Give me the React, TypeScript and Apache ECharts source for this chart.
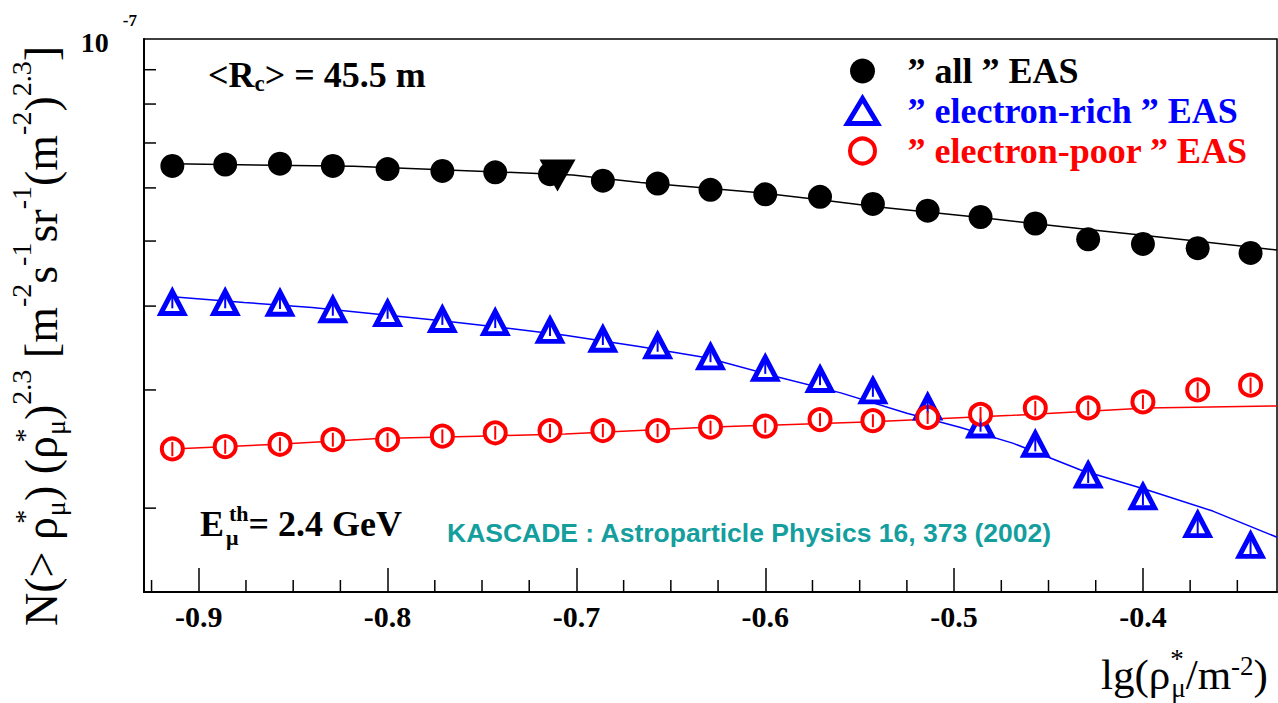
import React, { useEffect, useRef } from 'react';
import * as echarts from 'echarts';

// x positions of the bins, lg(rho*/m^-2)
const lgRho = [-0.914, -0.886, -0.857, -0.829, -0.8, -0.771, -0.743, -0.714, -0.686, -0.657, -0.629,
  -0.6, -0.571, -0.543, -0.514, -0.486, -0.457, -0.429, -0.4, -0.371, -0.343];
// "all" EAS
const allEAS = [6.47e-8, 6.5e-8, 6.52e-8, 6.47e-8, 6.4e-8, 6.36e-8, 6.33e-8, 6.29e-8, 6.15e-8, 6.09e-8, 5.96e-8,
  5.87e-8, 5.82e-8, 5.68e-8, 5.55e-8, 5.43e-8, 5.31e-8, 5.03e-8, 4.95e-8, 4.88e-8, 4.8e-8];
// "electron-rich" EAS
const eRich = [4.05e-8, 4.05e-8, 4.04e-8, 3.95e-8, 3.9e-8, 3.82e-8, 3.78e-8, 3.68e-8, 3.57e-8, 3.49e-8, 3.36e-8,
  3.23e-8, 3.11e-8, 2.99e-8, 2.83e-8, 2.66e-8, 2.49e-8, 2.24e-8, 2.08e-8, 1.89e-8, 1.76e-8];
const eRichErr = [0.08e-8, 0.08e-8, 0.08e-8, 0.08e-8, 0.07e-8, 0.07e-8, 0.07e-8, 0.07e-8, 0.07e-8, 0.07e-8, 0.06e-8,
  0.06e-8, 0.06e-8, 0.06e-8, 0.06e-8, 0.06e-8, 0.06e-8, 0.06e-8, 0.06e-8, 0.07e-8, 0.07e-8];
// "electron-poor" EAS
const ePoor = [2.45e-8, 2.47e-8, 2.49e-8, 2.53e-8, 2.53e-8, 2.56e-8, 2.59e-8, 2.61e-8, 2.61e-8, 2.61e-8, 2.64e-8,
  2.65e-8, 2.71e-8, 2.7e-8, 2.73e-8, 2.76e-8, 2.82e-8, 2.82e-8, 2.88e-8, 3.0e-8, 3.05e-8];
const ePoorErr = [0.06e-8, 0.06e-8, 0.06e-8, 0.06e-8, 0.06e-8, 0.06e-8, 0.06e-8, 0.06e-8, 0.06e-8, 0.06e-8, 0.06e-8,
  0.06e-8, 0.06e-8, 0.06e-8, 0.06e-8, 0.07e-8, 0.07e-8, 0.07e-8, 0.07e-8, 0.08e-8, 0.08e-8];

// fitted curves
const allFitX = [-0.914, -0.818, -0.73, -0.702, -0.666, -0.635, -0.603, -0.571, -0.54, -0.486, -0.458, -0.429, -0.4, -0.372, -0.329];
const allFitY = [6.52e-8, 6.46e-8, 6.32e-8, 6.27e-8, 6.11e-8, 6.01e-8, 5.9e-8, 5.76e-8, 5.62e-8, 5.42e-8, 5.31e-8, 5.2e-8, 5.1e-8, 5.0e-8, 4.85e-8];
const richFitX = [-0.914, -0.876, -0.84, -0.805, -0.77, -0.734, -0.706, -0.666, -0.631, -0.596, -0.56, -0.525, -0.497, -0.469, -0.433, -0.398, -0.363, -0.329];
const richFitY = [4.13e-8, 4.05e-8, 3.98e-8, 3.89e-8, 3.8e-8, 3.7e-8, 3.62e-8, 3.48e-8, 3.35e-8, 3.15e-8, 2.97e-8, 2.77e-8, 2.64e-8, 2.5e-8, 2.28e-8, 2.13e-8, 1.98e-8, 1.81e-8];
const poorFitX = [-0.914, -0.858, -0.805, -0.752, -0.706, -0.631, -0.543, -0.469, -0.398, -0.329];
const poorFitY = [2.45e-8, 2.49e-8, 2.54e-8, 2.56e-8, 2.58e-8, 2.64e-8, 2.69e-8, 2.75e-8, 2.82e-8, 2.84e-8];

// single inverted-triangle marker
const markX = [-0.71];
const markY = [6.26e-8];

// axis ranges and minor ticks
const X_MIN = -0.929;
const X_MAX = -0.329;
const Y_MIN = 1.5e-8;
const Y_MAX = 1e-7;
const xMinorTicks = [-0.925, -0.875, -0.85, -0.825, -0.775, -0.75, -0.725, -0.675, -0.65, -0.625,
  -0.575, -0.55, -0.525, -0.475, -0.45, -0.425, -0.375, -0.35];
const yMinorTicks = [2e-8, 3e-8, 4e-8, 5e-8, 6e-8, 7e-8, 8e-8, 9e-8];

const SERIES_NAMES = ['” all ” EAS', '” electron-rich ” EAS', '” electron-poor ” EAS'];

const serif = "'Liberation Serif', 'DejaVu Serif', serif";
const sans = "'Liberation Sans', Arial, sans-serif";

function zip(xs: number[], ys: number[]) {
  return xs.map((x, i) => [x, ys[i]]);
}

function errorBars(name: string, xs: number[], ys: number[], errs: number[], color: string) {
  return {
    name, type: 'custom', silent: true, z: 7,
    data: xs.map((x, i) => [x, ys[i] - errs[i], ys[i] + errs[i]]),
    renderItem: (_p: any, api: any) => {
      const lo = api.coord([api.value(0), api.value(1)]);
      const hi = api.coord([api.value(0), api.value(2)]);
      return {
        type: 'line',
        shape: { x1: lo[0], y1: lo[1], x2: hi[0], y2: hi[1] },
        style: { stroke: color, lineWidth: 2 },
      };
    },
  };
}

export default function App() {
  const ref = useRef<HTMLDivElement>(null);

  useEffect(() => {
    if (!ref.current) return;
    const chart = echarts.init(ref.current, undefined, { renderer: 'svg' });

    const mainT = { fontFamily: serif, fontSize: 46, color: '#000' };
    const supT = { fontFamily: serif, fontSize: 28, color: '#000', padding: [0, 0, 40, 0] };
    const starT = { fontFamily: serif, fontSize: 28, color: '#000', padding: [0, 0, 34, 0], width: 1 };
    const subT = { fontFamily: serif, fontSize: 28, color: '#000', padding: [28, 0, 0, 0] };

    const option: any = {
      animation: false,
      backgroundColor: '#fff',
      grid: {
        left: 144, right: 1, top: 39, bottom: 111,
        containLabel: false,
        outerBoundsMode: 'none',
        show: true, borderColor: '#000', borderWidth: 1.5, backgroundColor: 'transparent',
      },
      legend: {
        orient: 'vertical',
        left: 845,
        top: 53,
        padding: 0,
        itemGap: 4,
        itemWidth: 30,
        itemHeight: 25,
        selectedMode: false,
        textStyle: { fontFamily: serif, fontWeight: 'bold', fontSize: 36, padding: [0, 0, 0, 25] },
        data: [
          { name: SERIES_NAMES[0], textStyle: { color: '#000' } },
          { name: SERIES_NAMES[1], textStyle: { color: '#0000ff' }, itemStyle: { borderWidth: 5 } },
          { name: SERIES_NAMES[2], textStyle: { color: '#ff0000' }, itemStyle: { borderWidth: 4 } },
        ],
      },
      xAxis: {
        type: 'value',
        min: X_MIN,
        max: X_MAX,
        splitNumber: 6,
        axisLine: { show: true, onZero: false, lineStyle: { color: '#000', width: 2 } },
        axisTick: { show: true, inside: true, length: 24, lineStyle: { color: '#000', width: 1.5 } },
        splitLine: { show: false },
        axisLabel: {
          showMinLabel: false, showMaxLabel: false, margin: 9,
          color: '#000', fontFamily: serif, fontWeight: 'bold', fontSize: 30,
        },
        name: '{m|lg(ρ}{st|*}{u|μ}{m|/m}{s|-2}{m|)}',
        nameLocation: 'end',
        nameGap: -176,
        nameTextStyle: {
          align: 'left',
          verticalAlign: 'top',
          padding: [53, 0, 0, 0],
          rich: {
            m: { fontFamily: serif, fontSize: 43, color: '#000' },
            s: { fontFamily: serif, fontSize: 27, color: '#000', padding: [0, 0, 18, 0] },
            st: { fontFamily: serif, fontSize: 27, color: '#000', padding: [0, 0, 32, 0], width: 1 },
            u: { fontFamily: serif, fontSize: 27, color: '#000', padding: [26, 0, 0, 0] },
          },
        },
      },
      yAxis: {
        type: 'log',
        logBase: 10,
        min: Y_MIN,
        max: Y_MAX,
        axisLine: { show: true, onZero: false, lineStyle: { color: '#000', width: 2 } },
        axisTick: { show: false },
        splitLine: { show: false },
        minorSplitLine: { show: false },
        axisLabel: {
          margin: 7,
          showMinLabel: false,
          formatter: (v: number) => (Math.abs(Math.log10(v) + 7) < 1e-6 ? '{b|10}{e|-7}' : ''),
          rich: {
            b: { fontFamily: serif, fontWeight: 'bold', fontSize: 28, color: '#000', padding: [7, 0, 0, 0] },
            e: { fontFamily: serif, fontWeight: 'bold', fontSize: 17, color: '#000', padding: [0, 0, 37, 14] },
          },
        },
        name:
          '{m|N(> ρ}{st|*}{u|μ}{m|) (ρ}{st|*}{u|μ}{m|)}{s|2.3}{m| [m}{s|-2}{m|s}{s|-1}{m|sr}{s|-1}{m|(m}{s|-2}{m|)}{s|2.3}{m|]}',
        nameLocation: 'middle',
        nameRotate: 90,
        nameGap: 40,
        nameTextStyle: {
          padding: [0, 41, 0, 0],
          rich: { m: mainT, s: supT, st: starT, u: subT },
        },
      },
      graphic: [
        {
          type: 'text',
          x: 208,
          y: 75,
          style: {
            text: '{m|<R}{u|c}{m|> = 45.5 m}',
            verticalAlign: 'middle',
            rich: {
              m: { fontFamily: serif, fontWeight: 'bold', fontSize: 36, fill: '#000' },
              u: { fontFamily: serif, fontWeight: 'bold', fontSize: 23, fill: '#000', padding: [16, 0, 0, 0] },
            },
          },
        },
        {
          type: 'text',
          x: 200,
          y: 524,
          style: {
            text: '{m|E}{u|μ}{s|th}{m|= 2.4 GeV}',
            verticalAlign: 'middle',
            rich: {
              m: { fontFamily: serif, fontWeight: 'bold', fontSize: 36, fill: '#000' },
              u: { fontFamily: serif, fontWeight: 'bold', fontSize: 22, fill: '#000', padding: [26, 0, 0, 2], width: 1 },
              s: { fontFamily: serif, fontWeight: 'bold', fontSize: 22, fill: '#000', padding: [0, 0, 22, 2] },
            },
          },
        },
        {
          type: 'text',
          x: 447,
          y: 533,
          scaleX: 1.06,
          style: {
            text: 'KASCADE : Astroparticle Physics 16, 373 (2002)',
            verticalAlign: 'middle',
            fontFamily: sans,
            fontWeight: 'bold',
            fontSize: 25,
            fill: '#149e9e',
          },
        },
      ],
      series: [
        {
          name: 'allFit', type: 'line', data: zip(allFitX, allFitY), showSymbol: false, symbol: 'none',
          lineStyle: { color: '#000', width: 1.5 }, z: 3, silent: true,
        },
        {
          name: 'richFit', type: 'line', data: zip(richFitX, richFitY), showSymbol: false, symbol: 'none',
          lineStyle: { color: '#0000ff', width: 1.5 }, z: 3, silent: true,
        },
        {
          name: 'poorFit', type: 'line', data: zip(poorFitX, poorFitY), showSymbol: false, symbol: 'none',
          lineStyle: { color: '#ff0000', width: 1.5 }, z: 3, silent: true,
        },
        {
          name: SERIES_NAMES[0], type: 'scatter', data: zip(lgRho, allEAS),
          symbol: 'circle', symbolSize: 24, itemStyle: { color: '#000', opacity: 1 }, z: 5,
        },
        {
          name: SERIES_NAMES[1], type: 'scatter', data: zip(lgRho, eRich),
          symbol: 'triangle', symbolSize: [23, 22],
          itemStyle: { color: '#fff', borderColor: '#0000ff', borderWidth: 5, opacity: 1 }, z: 5,
        },
        {
          name: SERIES_NAMES[2], type: 'scatter', data: zip(lgRho, ePoor),
          symbol: 'circle', symbolSize: 21,
          itemStyle: { color: '#fff', borderColor: '#ff0000', borderWidth: 4, opacity: 1 }, z: 5,
        },
        errorBars('richErr', lgRho, eRich, eRichErr, '#0000ff'),
        errorBars('poorErr', lgRho, ePoor, ePoorErr, '#ff0000'),
        {
          name: 'marker', type: 'scatter', data: zip(markX, markY),
          symbol: 'triangle', symbolRotate: 180, symbolSize: [36, 32], itemStyle: { color: '#000', opacity: 1 }, z: 6,
        },
        {
          name: 'xMinor', type: 'custom', silent: true, clip: false, z: 4,
          data: xMinorTicks.map((v) => [v, Y_MIN]),
          renderItem: (_p: any, api: any) => {
            const p = api.coord([api.value(0), api.value(1)]);
            return {
              type: 'line',
              shape: { x1: p[0], y1: p[1], x2: p[0], y2: p[1] - 12 },
              style: { stroke: '#000', lineWidth: 1.5 },
            };
          },
        },
        {
          name: 'yMinor', type: 'custom', silent: true, clip: false, z: 4,
          data: yMinorTicks.map((v) => [X_MIN, v]),
          renderItem: (_p: any, api: any) => {
            const p = api.coord([api.value(0), api.value(1)]);
            return {
              type: 'line',
              shape: { x1: p[0], y1: p[1], x2: p[0] + 12, y2: p[1] },
              style: { stroke: '#000', lineWidth: 1.5 },
            };
          },
        },
      ],
    };

    chart.setOption(option);
    return () => chart.dispose();
  }, []);

  return (
    <div
      ref={ref}
      style={{ position: 'fixed', left: 0, top: 0, width: 1278, height: 703, background: '#fff' }}
    />
  );
}
